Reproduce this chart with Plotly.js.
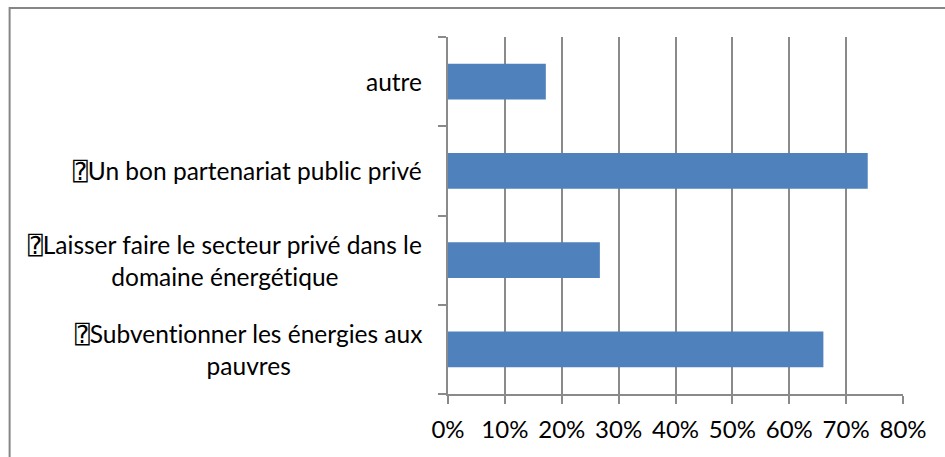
<!DOCTYPE html>
<html>
<head>
<meta charset="utf-8">
<script src="https://cdn.plot.ly/plotly-3.0.1.min.js"></script>
<style>html,body{margin:0;padding:0;background:#fff;}#chart{width:945px;height:457px;}
svg text{font-variant-ligatures:none;font-feature-settings:"liga" 0,"clig" 0;}</style>
</head>
<body>
<div id="chart"></div>
<script>
// Categories listed bottom to top (as drawn)
const categories = [
  "\u2370Subventionner les énergies aux<br>pauvres",
  "\u2370Laisser faire le secteur privé dans le<br>domaine énergétique",
  "\u2370Un bon partenariat public privé",
  "autre"
];
const values = [0.66, 0.267, 0.738, 0.172];
const tickVals = [0, 0.1, 0.2, 0.3, 0.4, 0.5, 0.6, 0.7, 0.8];
const tickText = ["0%", "10%", "20%", "30%", "40%", "50%", "60%", "70%", "80%"];

const FONT = "Lato, 'DejaVu Sans Mono', 'DejaVu Sans', sans-serif";
const GRID = "#8a8a8a";

const trace = {
  type: "bar",
  orientation: "h",
  y: categories,
  x: values,
  marker: {color: "#4F81BD"},
  hoverinfo: "none"
};

const annotations = categories.map(c => ({
  xref: "paper", yref: "y",
  x: 0, y: c,
  xanchor: "right", yanchor: "middle",
  xshift: -24,
  text: c,
  align: "center",
  showarrow: false,
  font: {family: FONT, size: 24.5, color: "#000"}
}));

const layout = {
  width: 945, height: 457,
  margin: {l: 448, r: 42, t: 37, b: 63, pad: 0},
  paper_bgcolor: "#fff", plot_bgcolor: "#fff",
  showlegend: false,
  bargap: 0.6,
  font: {family: FONT, size: 24, color: "#000"},
  xaxis: {
    range: [0, 0.8],
    tickvals: tickVals, ticktext: tickText,
    showgrid: true, gridcolor: GRID, gridwidth: 2,
    zeroline: false,
    showline: true, linecolor: GRID, linewidth: 2,
    ticks: "outside", ticklen: 8, tickwidth: 2, tickcolor: GRID,
    ticklabelstandoff: 5,
    tickfont: {family: FONT, size: 24, color: "#000"},
    fixedrange: true
  },
  yaxis: {
    categoryorder: "array", categoryarray: categories,
    showgrid: false, zeroline: false,
    showline: true, linecolor: GRID, linewidth: 2,
    ticks: "outside", ticklen: 8, tickwidth: 2, tickcolor: GRID,
    tickson: "boundaries",
    showticklabels: false,
    fixedrange: true
  },
  annotations: annotations,
  shapes: [{
    type: "rect", xref: "paper", yref: "paper",
    x0: -0.9635, x1: 1.11, y0: -0.2, y1: 1.0812,
    line: {color: "#868686", width: 2}, fillcolor: "rgba(0,0,0,0)", layer: "below"
  }]
};

Plotly.newPlot("chart", [trace], layout, {staticPlot: true, displayModeBar: false});
</script>
</body>
</html>
